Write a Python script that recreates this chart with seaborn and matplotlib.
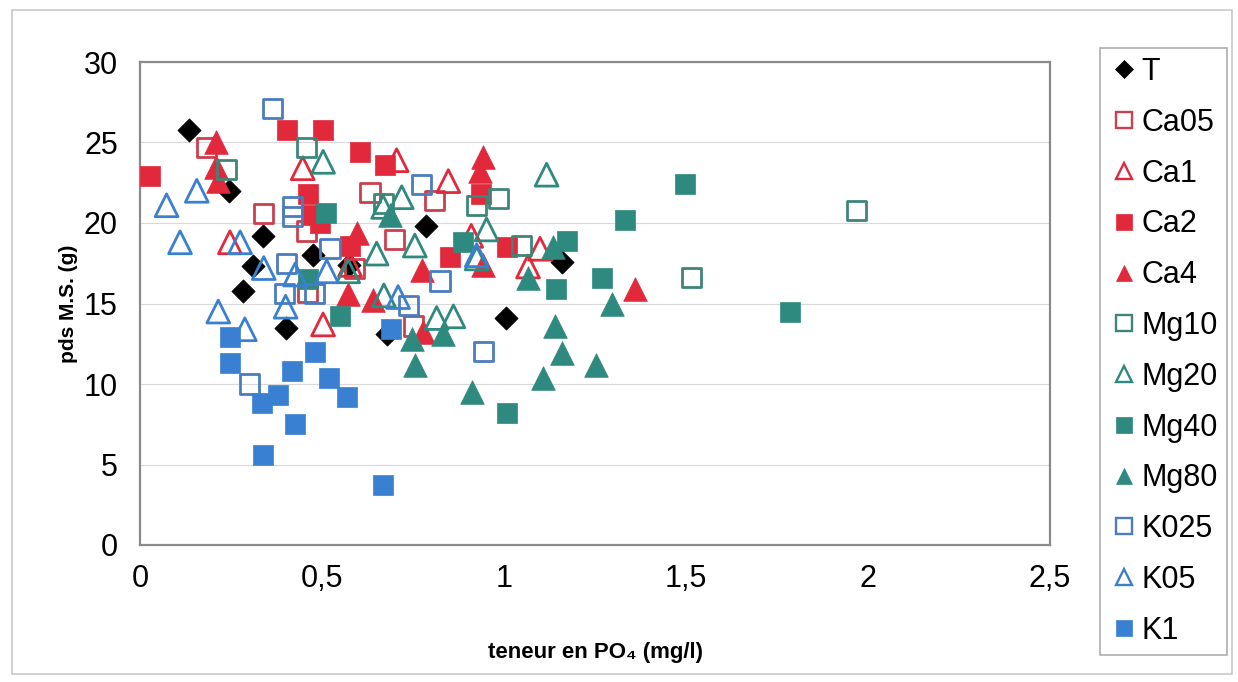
import matplotlib
matplotlib.use("Agg")
import matplotlib.pyplot as plt
import seaborn as sns
from matplotlib.lines import Line2D
from matplotlib.patches import Rectangle

# ---------------- data ----------------
T_x = [0.135, 0.245, 0.339, 0.311, 0.284, 0.401, 0.476, 0.575, 0.678, 0.787, 1.005, 1.158]
T_y = [25.8, 22.0, 19.2, 17.3, 15.8, 13.5, 18.0, 17.4, 13.1, 19.8, 14.1, 17.6]

Ca05_x = [0.183, 0.339, 0.458, 0.460, 0.632, 0.700, 0.751, 0.810, 0.590]
Ca05_y = [24.7, 20.6, 19.5, 15.7, 21.9, 19.0, 13.6, 21.4, 17.2]

Ca1_x = [0.247, 0.447, 0.503, 0.577, 0.705, 0.847, 0.910, 1.066, 1.099]
Ca1_y = [18.8, 23.4, 13.7, 17.4, 23.9, 22.6, 19.2, 17.3, 18.4]

Ca2_x = [0.027, 0.403, 0.503, 0.604, 0.673, 0.462, 0.472, 0.495, 0.577, 0.852, 0.938, 1.007]
Ca2_y = [22.9, 25.8, 25.8, 24.4, 23.6, 21.8, 20.5, 20.0, 18.6, 17.9, 21.8, 18.5]

Ca4_x = [0.210, 0.210, 0.215, 0.595, 0.572, 0.641, 0.774, 0.778, 0.943, 0.934, 0.943, 1.360]
Ca4_y = [25.0, 23.5, 22.6, 19.4, 15.6, 15.2, 17.1, 13.2, 24.1, 23.2, 17.4, 15.9]

Mg10_x = [0.238, 0.458, 0.668, 0.925, 0.985, 1.048, 1.515, 1.969]
Mg10_y = [23.3, 24.7, 21.2, 21.1, 21.5, 18.6, 16.6, 20.8]

Mg20_x = [0.503, 0.719, 0.668, 0.952, 1.117, 0.755, 0.650, 0.572, 0.670, 0.815, 0.861, 0.925]
Mg20_y = [23.8, 21.6, 21.0, 19.6, 23.0, 18.6, 18.1, 17.0, 15.5, 14.1, 14.2, 17.8]

Mg40_x = [0.510, 0.462, 0.549, 0.888, 1.172, 1.143, 1.268, 1.332, 1.497, 1.786, 1.007]
Mg40_y = [20.6, 16.5, 14.2, 18.8, 18.9, 15.9, 16.6, 20.2, 22.4, 14.5, 8.2]

Mg80_x = [0.687, 0.746, 0.755, 0.833, 0.911, 1.067, 1.135, 1.140, 1.158, 1.254, 1.296, 1.108]
Mg80_y = [20.5, 12.8, 11.2, 13.1, 9.5, 16.6, 18.5, 13.6, 11.9, 11.2, 15.0, 10.4]

K025_x = [0.363, 0.420, 0.420, 0.403, 0.398, 0.480, 0.522, 0.300, 0.738, 0.774, 0.824, 0.943]
K025_y = [27.1, 21.0, 20.4, 17.5, 15.6, 15.6, 18.4, 10.0, 14.9, 22.4, 16.4, 12.0]

K05_x = [0.156, 0.073, 0.110, 0.275, 0.340, 0.215, 0.288, 0.400, 0.426, 0.513, 0.709, 0.925]
K05_y = [22.0, 21.1, 18.8, 18.8, 17.2, 14.5, 13.4, 14.8, 16.8, 17.0, 15.4, 18.0]

K1_x = [0.247, 0.247, 0.481, 0.417, 0.518, 0.380, 0.334, 0.426, 0.338, 0.690, 0.568, 0.668]
K1_y = [12.9, 11.3, 12.0, 10.8, 10.4, 9.3, 8.8, 7.5, 5.6, 13.4, 9.2, 3.7]

series_names = ["T", "Ca05", "Ca1", "Ca2", "Ca4", "Mg10", "Mg20", "Mg40", "Mg80", "K025", "K05", "K1"]
x_ticks = [0, 0.5, 1, 1.5, 2, 2.5]
x_tick_labels = ["0", "0,5", "1", "1,5", "2", "2,5"]
y_ticks = [0, 5, 10, 15, 20, 25, 30]

# ---------------- styles ----------------
RED = "#E1293B"
RED_O = "#C9404F"
TEAL = "#2E8A7E"
TEAL_O = "#3E8578"
BLUE = "#3A80D2"
BLUE_O = "#4A7CC0"

styles = {
    "T":    dict(x=T_x,    y=T_y,    marker="D", color="black", filled=True,  s=140),
    "Ca05": dict(x=Ca05_x, y=Ca05_y, marker="s", color=RED_O,   filled=False, s=190),
    "Ca1":  dict(x=Ca1_x,  y=Ca1_y,  marker="^", color=RED,     filled=False, s=270),
    "Ca2":  dict(x=Ca2_x,  y=Ca2_y,  marker="s", color=RED,     filled=True,  s=215),
    "Ca4":  dict(x=Ca4_x,  y=Ca4_y,  marker="^", color=RED,     filled=True,  s=290),
    "Mg10": dict(x=Mg10_x, y=Mg10_y, marker="s", color=TEAL_O,  filled=False, s=190),
    "Mg20": dict(x=Mg20_x, y=Mg20_y, marker="^", color=TEAL,    filled=False, s=270),
    "Mg40": dict(x=Mg40_x, y=Mg40_y, marker="s", color=TEAL,    filled=True,  s=215),
    "Mg80": dict(x=Mg80_x, y=Mg80_y, marker="^", color=TEAL,    filled=True,  s=290),
    "K025": dict(x=K025_x, y=K025_y, marker="s", color=BLUE_O,  filled=False, s=190),
    "K05":  dict(x=K05_x,  y=K05_y,  marker="^", color=BLUE,    filled=False, s=270),
    "K1":   dict(x=K1_x,   y=K1_y,   marker="s", color=BLUE,    filled=True,  s=215),
}

sns.set_style("white")
plt.rcParams["font.family"] = ["Liberation Sans", "DejaVu Sans"]
plt.rcParams["text.color"] = "black"
plt.rcParams["axes.labelcolor"] = "black"
plt.rcParams["xtick.color"] = "black"
plt.rcParams["ytick.color"] = "black"

fig = plt.figure(figsize=(12.38, 6.82), dpi=100)
ax = fig.add_axes([140 / 1238, 137 / 682, 910 / 1238, 483 / 682])

handles = []
for name in series_names:
    st = styles[name]
    n_before = len(ax.collections)
    sns.scatterplot(x=st["x"], y=st["y"], marker=st["marker"], s=st["s"], ax=ax,
                    color=st["color"], linewidth=0, legend=False, zorder=3)
    coll = ax.collections[n_before]
    if st["filled"]:
        coll.set_facecolor(st["color"])
        coll.set_edgecolor(st["color"])
        coll.set_linewidth(0.5)
    else:
        coll.set_facecolor("none")
        coll.set_edgecolor(st["color"])
        coll.set_linewidth(2.0)
    ms = 12 if st["marker"] != "D" else 9.5
    handles.append(Line2D([], [], linestyle="none", marker=st["marker"], markersize=ms,
                          markerfacecolor=st["color"] if st["filled"] else "none",
                          markeredgecolor=st["color"], markeredgewidth=1.7 if not st["filled"] else 0.5,
                          label=name))

ax.set_xlim(0, 2.5)
ax.set_ylim(0, 30)
ax.set_xticks(x_ticks)
ax.set_xticklabels(x_tick_labels)
ax.set_yticks(y_ticks)
ax.tick_params(axis="both", labelsize=22, length=0, labelcolor="black")
ax.tick_params(axis="x", pad=14)
ax.tick_params(axis="y", pad=16)
ax.grid(axis="y", color="#d9d9d9", linewidth=0.8)
ax.grid(axis="x", visible=False)
for sp in ax.spines.values():
    sp.set_visible(True)
    sp.set_color("#8a8a8a")
    sp.set_linewidth(1.6)

ax.set_xlabel("teneur en PO\u2084 (mg/l)", fontsize=16, fontweight="bold", color="black", labelpad=34)
ax.set_ylabel("pds M.S. (g)", fontsize=15, fontweight="bold", color="black", labelpad=4)

leg = fig.legend(handles=handles, loc="upper left", bbox_to_anchor=(1100 / 1238, 1 - 48 / 682),
                 frameon=True, fancybox=False, fontsize=22, labelspacing=0.68,
                 handletextpad=0.12, handlelength=0.95, borderpad=0.3, borderaxespad=0)
leg.get_frame().set_edgecolor("#9a9a9a")
leg.get_frame().set_linewidth(1.2)
for t in leg.get_texts():
    t.set_color("black")

fig.patches.append(Rectangle((12 / 1238, 8 / 682), 1220 / 1238, 664 / 682, transform=fig.transFigure,
                             fill=False, edgecolor="#c8c8c8", linewidth=1.2))

fig.savefig("out.png", dpi=100, facecolor="white")
